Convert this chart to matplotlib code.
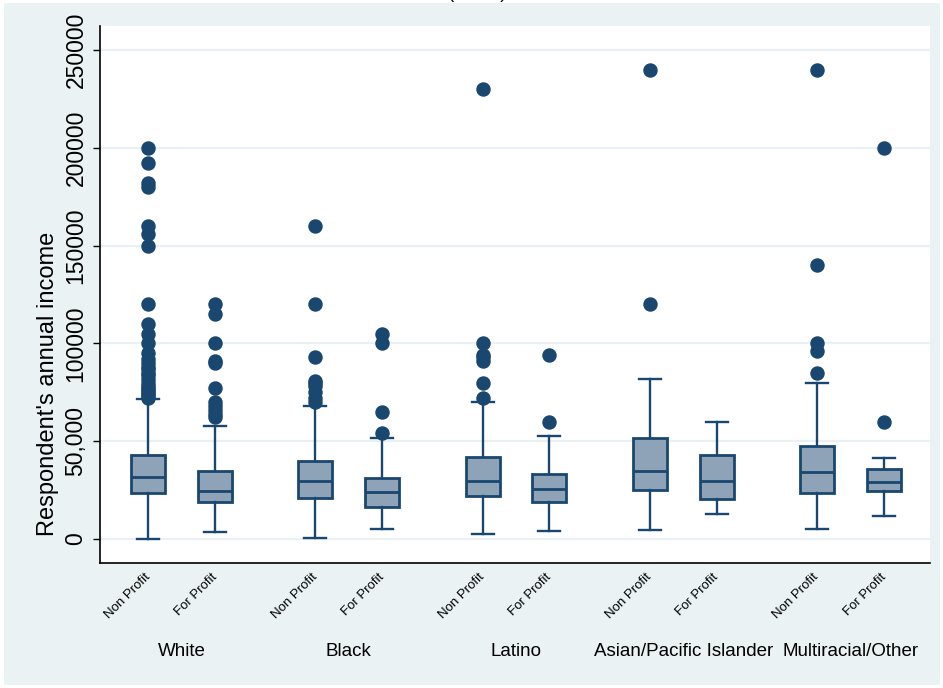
import matplotlib
matplotlib.use("Agg")
from matplotlib import pyplot as plt
from matplotlib.patches import Rectangle
from matplotlib.transforms import blended_transform_factory

plt.rcParams['font.family'] = ['Liberation Sans', 'DejaVu Sans']

# --- data -------------------------------------------------------------
races = ['White', 'Black', 'Latino', 'Asian/Pacific Islander', 'Multiracial/Other']
sectors = ['Non Profit', 'For Profit']

# box summary per (race, sector): lower whisker, Q1, median, Q3, upper whisker
whis_lo = [0, 3600, 400, 5000, 2400, 4100, 4600, 13000, 5000, 11900]
q1 = [23700, 19000, 20800, 16500, 22000, 19000, 25000, 20600, 23700, 24400]
med = [31900, 24700, 29800, 23900, 29800, 25700, 35000, 29700, 34300, 29000]
q3 = [43000, 35000, 40000, 31000, 41800, 33200, 51800, 43100, 47400, 35800]
whis_hi = [71600, 58000, 68000, 51800, 70200, 52800, 81800, 59800, 80000, 41300]

outliers = [
    [72000, 73000, 74000, 75000, 76000, 77000, 78000, 80000, 82000, 84000,
     85000, 87000, 88000, 90000, 92000, 95000, 100000, 105000, 110000,
     120000, 150000, 156000, 160000, 180000, 182000, 192000, 200000],
    [62500, 64000, 66000, 68000, 70000, 77000, 90000, 91000, 100000,
     115000, 120000],
    [70000, 72000, 75000, 78000, 80000, 81000, 93000, 120000, 160000],
    [54000, 65000, 100000, 105000],
    [72000, 80000, 91000, 93000, 94000, 100000, 230000],
    [60000, 94000],
    [120000, 240000],
    [],
    [85000, 96000, 100000, 140000, 240000],
    [60000, 200000],
]

yticks = [0, 50000, 100000, 150000, 200000, 250000]
ytick_labels = ['0', '50,000', '100000', '150000', '200000', '250000']

navy = '#1A476F'
box_fill = '#8FA3B8'
grid_col = '#EAF0F3'
bg_col = '#EAF2F3'

# --- figure -----------------------------------------------------------
fig = plt.figure(figsize=(9.43, 6.88), dpi=100, facecolor='white')
fig.patches.append(Rectangle((4 / 943, 3 / 688), 936 / 943, 682 / 688,
                             transform=fig.transFigure, facecolor=bg_col,
                             edgecolor='none', zorder=-10))
ax = fig.add_axes([100 / 943, 125 / 688, 830 / 943, 537 / 688])
ax.set_facecolor('white')

positions = []
for g in range(len(races)):
    positions += [2.5 * g, 2.5 * g + 1]

stats = []
for i in range(len(positions)):
    stats.append(dict(whislo=whis_lo[i], q1=q1[i], med=med[i], q3=q3[i],
                      whishi=whis_hi[i], fliers=outliers[i]))

ax.bxp(stats, positions=positions, widths=0.51, capwidths=0.33,
       patch_artist=True, showfliers=True,
       boxprops=dict(facecolor=box_fill, edgecolor=navy, linewidth=2.0),
       medianprops=dict(color=navy, linewidth=2.0),
       whiskerprops=dict(color=navy, linewidth=1.7),
       capprops=dict(color=navy, linewidth=1.7),
       flierprops=dict(marker='o', markersize=9.4, markerfacecolor=navy,
                       markeredgecolor=navy, linestyle='none'))

ax.set_xlim(-0.72, 11.69)
ax.set_ylim(-12270, 262270)

ax.set_yticks(yticks)
ax.set_yticklabels(ytick_labels, rotation=90, va='center', fontsize=16.5)
ax.tick_params(axis='y', length=5, width=1, pad=4, colors='black')
ax.yaxis.grid(True, color=grid_col, linewidth=1.6)
ax.set_axisbelow(True)

ax.set_xticks(positions)
ax.set_xticklabels(sectors * len(races), rotation=45, ha='right', va='center',
                   rotation_mode='anchor', fontsize=9.5)
ax.tick_params(axis='x', length=0, pad=9)

for side in ['top', 'right']:
    ax.spines[side].set_visible(False)
for side in ['left', 'bottom']:
    ax.spines[side].set_linewidth(1.2)
    ax.spines[side].set_color('black')

ax.set_ylabel("Respondent's annual income", fontsize=17)
ax.yaxis.label.set_verticalalignment('center')
ax.yaxis.set_label_coords(-52 / 830, 0.333)

trans = blended_transform_factory(ax.transData, ax.transAxes)
for g, race in enumerate(races):
    ax.text(2.5 * g + 0.5, -0.164, race, transform=trans, ha='center',
            va='center', fontsize=13.5)

# title sits mostly above the canvas
fig.text(478 / 943, 1 + 2 / 688, '(mean)', ha='center', va='baseline',
         fontsize=13.5)

fig.savefig('out.png', dpi=100, facecolor=fig.get_facecolor())
